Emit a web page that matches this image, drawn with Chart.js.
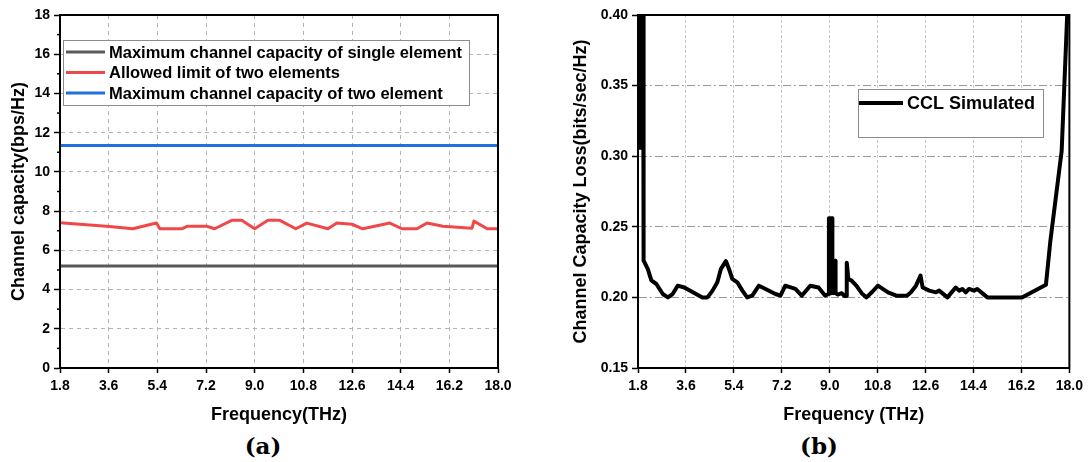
<!DOCTYPE html>
<html>
<head>
<meta charset="utf-8">
<script src="https://cdn.jsdelivr.net/npm/chart.js@4.4.0/dist/chart.umd.min.js"></script>
<style>
  body { margin: 0; background: #fff; width: 1088px; height: 462px; position: relative; overflow: hidden; }
  canvas { position: absolute; top: 0; }
  #capChart { left: 0; }
  #cclChart { left: 545px; }
  .tag { position: absolute; font: bold 23px "DejaVu Serif", serif; transform: translate(-50%, -50%); }
</style>
</head>
<body>
<canvas id="capChart" width="530" height="430"></canvas>
<canvas id="cclChart" width="543" height="430"></canvas>
<div class="tag" style="left:263px; top:445px">(a)</div>
<div class="tag" style="left:819px; top:445px">(b)</div>
<script>
// tick positions
const freqTicks = [1.8, 3.6, 5.4, 7.2, 9.0, 10.8, 12.6, 14.4, 16.2, 18.0];
const capTicks = [0, 1, 2, 3, 4, 5, 6, 7, 8, 9, 10, 11, 12, 13, 14, 15, 16, 17, 18];
const cclTicks = [0.15, 0.20, 0.25, 0.30, 0.35, 0.40];

// (a) channel capacity
const capFreqEnds = [1.8, 18.0];
const singleCap = 5.2;
const twoCap = 11.35;
const limitFreq = [1.8, 3.63, 4.49, 5.37, 5.49, 6.30, 6.52, 7.23, 7.52, 8.15, 8.52, 9.0, 9.49, 9.93,
  10.52, 10.93, 11.71, 12.04, 12.60, 13.0, 14.0, 14.45, 15.0, 15.37, 15.96, 17.04, 17.11, 17.6, 18.0];
const limitCap = [7.41, 7.22, 7.10, 7.39, 7.10, 7.10, 7.23, 7.23, 7.10, 7.53, 7.53, 7.10, 7.53, 7.53,
  7.10, 7.39, 7.10, 7.39, 7.33, 7.10, 7.39, 7.10, 7.10, 7.39, 7.23, 7.13, 7.49, 7.10, 7.10];

// (b) channel capacity loss (the start and the 9 THz resonance swing rapidly)
const cclFreq = [1.82, 1.84, 1.87, 1.90, 1.93, 1.96, 1.99, 2.01, 2.04, 2.17, 2.30, 2.49, 2.73, 2.92, 3.10, 3.29, 3.54,
  3.98, 4.22, 4.41, 4.60, 4.78, 4.91, 5.10, 5.22, 5.34, 5.53, 5.72, 5.90, 6.09, 6.34, 6.59, 6.96,
  7.15, 7.33, 7.71, 7.95, 8.27, 8.58, 8.83, 8.95, 8.97, 9.00, 9.03, 9.06, 9.09, 9.10, 9.15, 9.20, 9.22, 9.30,
  9.45, 9.55, 9.62, 9.64, 9.70, 9.82, 10.0, 10.2, 10.38, 10.6, 10.81, 11.19, 11.5, 11.9, 12.05,
  12.24, 12.41, 12.49, 12.74, 12.99, 13.11, 13.42, 13.73, 13.86, 13.98, 14.11, 14.23, 14.42, 14.54,
  14.92, 16.22, 17.12, 17.28, 17.71, 17.90, 17.96];
const cclValue = [0.45, 0.306, 0.45, 0.306, 0.45, 0.306, 0.45, 0.226, 0.225, 0.220, 0.212, 0.2095, 0.2024, 0.200, 0.2024, 0.2083, 0.207,
  0.2024, 0.200, 0.200, 0.2048, 0.2107, 0.220, 0.2257, 0.220, 0.2131, 0.2107, 0.2048, 0.200, 0.2012, 0.2083, 0.206, 0.2024,
  0.2012, 0.2083, 0.206, 0.2012, 0.2083, 0.207, 0.2012, 0.2024, 0.256, 0.203, 0.256, 0.203, 0.256, 0.204, 0.203, 0.226, 0.203, 0.202,
  0.203, 0.201, 0.201, 0.2245, 0.213, 0.2119, 0.2083, 0.203, 0.200, 0.204, 0.2083, 0.2036, 0.2012, 0.2012, 0.2036,
  0.2083, 0.2155, 0.207, 0.2048, 0.2036, 0.2048, 0.200, 0.207, 0.2048, 0.206, 0.2036, 0.206, 0.2048, 0.206,
  0.200, 0.200, 0.209, 0.239, 0.3036, 0.3917, 0.42];

const pts = (xs, ys) => xs.map((x, i) => ({ x: x, y: ys[i] }));
const font = (size) => ({ family: "'Liberation Sans', Arial, sans-serif", size: size, weight: 'bold' });

// black box around the plot area
const framePlugin = {
  id: 'frame',
  afterDraw(chart) {
    const { ctx, chartArea: a } = chart;
    ctx.save();
    ctx.strokeStyle = '#000';
    ctx.lineWidth = 2;
    ctx.strokeRect(a.left, a.top, a.right - a.left, a.bottom - a.top);
    ctx.restore();
  }
};

// short ticks between the labelled ones on the capacity axis
const minorTicks = {
  id: 'minorTicks',
  afterDraw(chart) {
    const s = chart.scales.y;
    const ctx = chart.ctx;
    ctx.save();
    ctx.strokeStyle = '#000';
    ctx.lineWidth = 1.5;
    capTicks.filter(v => v % 2 !== 0).forEach(v => {
      const y = s.getPixelForValue(v);
      ctx.beginPath();
      ctx.moveTo(s.right - 3, y);
      ctx.lineTo(s.right, y);
      ctx.stroke();
    });
    ctx.restore();
  }
};

// legend drawn inside the plot with a grey box
const boxLegend = {
  id: 'boxLegend',
  afterDraw(chart, args, o) {
    const { ctx, chartArea } = chart;
    const x = chartArea.left + o.left, y = chartArea.top + o.top;
    ctx.save();
    ctx.fillStyle = '#fff';
    ctx.fillRect(x, y, o.width, o.height);
    ctx.strokeStyle = '#8c8c8c';
    ctx.lineWidth = 1;
    ctx.strokeRect(x + 0.5, y + 0.5, o.width, o.height);
    ctx.font = 'bold ' + o.size + "px 'Liberation Sans', Arial, sans-serif";
    ctx.textBaseline = 'middle';
    chart.data.datasets.forEach((ds, i) => {
      const ry = y + o.firstRow + i * o.rowGap;
      ctx.strokeStyle = ds.borderColor;
      ctx.lineWidth = o.lineWidth;
      ctx.beginPath();
      ctx.moveTo(x + o.sampleStart, ry);
      ctx.lineTo(x + o.sampleEnd, ry);
      ctx.stroke();
      ctx.fillStyle = '#000';
      ctx.fillText(ds.label, x + o.textStart, ry + 1);
    });
    ctx.restore();
  }
};

const freqAxis = (gridColor, dash) => ({
  type: 'linear',
  min: 1.8,
  max: 18,
  afterBuildTicks: s => { s.ticks = freqTicks.map(v => ({ value: v })); },
  afterFit: s => { s.height = 58; },
  grid: { color: gridColor, tickColor: '#000', tickLength: 5, tickWidth: 1.5, lineWidth: 1 },
  border: { display: true, color: '#000', width: 2, dash: dash },
  ticks: { color: '#000', font: font(14), padding: 5, maxRotation: 0, callback: v => v.toFixed(1) },
  title: { display: true, font: font(18), color: '#000', padding: { top: 0, bottom: 0 } }
});

const capX = freqAxis('#b4b4b4', [4, 4]);
capX.title.text = 'Frequency(THz)';

new Chart(document.getElementById('capChart'), {
  type: 'line',
  data: {
    datasets: [
      { label: 'Maximum channel capacity of single element', data: pts(capFreqEnds, [singleCap, singleCap]), borderColor: '#595959' },
      { label: 'Allowed limit of two elements', data: pts(limitFreq, limitCap), borderColor: '#f04848' },
      { label: 'Maximum channel capacity of two element', data: pts(capFreqEnds, [twoCap, twoCap]), borderColor: '#1f72dc' }
    ]
  },
  options: {
    responsive: false,
    animation: false,
    layout: { padding: { top: 15, right: 32, bottom: 4, left: 0 } },
    elements: { point: { radius: 0 }, line: { borderWidth: 3, tension: 0, borderJoinStyle: 'round' } },
    scales: {
      x: capX,
      y: {
        type: 'linear',
        min: 0,
        max: 18,
        afterBuildTicks: s => { s.ticks = capTicks.map(v => ({ value: v })); },
        afterFit: s => { s.width = 60; },
        grid: {
          color: c => (c.tick && c.tick.value % 2 === 0) ? '#b4b4b4' : 'rgba(0,0,0,0)',
          tickColor: c => (c.tick && c.tick.value % 2 === 0) ? '#000' : 'rgba(0,0,0,0)',
          tickLength: 6, tickWidth: 1.5
        },
        border: { display: true, color: '#000', width: 2, dash: [4, 4] },
        ticks: { color: '#000', font: font(14), padding: 4, callback: v => (v % 2 === 0 ? String(v) : '') },
        title: { display: true, text: 'Channel capacity(bps/Hz)', font: font(18), color: '#000', padding: { top: 8, bottom: 0 } }
      }
    },
    plugins: {
      legend: { display: false },
      tooltip: { enabled: false },
      boxLegend: { left: 3, top: 25, width: 406, height: 65, size: 16.5, firstRow: 12, rowGap: 20.5,
        sampleStart: 3, sampleEnd: 42, textStart: 46, lineWidth: 3 }
    }
  },
  plugins: [framePlugin, minorTicks, boxLegend]
});

const cclX = freqAxis('#c8c8c8', [3, 2]);
cclX.title.text = 'Frequency (THz)';

new Chart(document.getElementById('cclChart'), {
  type: 'line',
  data: {
    datasets: [
      { label: 'CCL Simulated', data: pts(cclFreq, cclValue), borderColor: '#000', borderWidth: 4, clip: 0 }
    ]
  },
  options: {
    responsive: false,
    animation: false,
    layout: { padding: { top: 15, right: 15, bottom: 4, left: 0 } },
    elements: { point: { radius: 0 }, line: { tension: 0, borderJoinStyle: 'round' } },
    scales: {
      x: cclX,
      y: {
        type: 'linear',
        min: 0.15,
        max: 0.40,
        afterBuildTicks: s => { s.ticks = cclTicks.map(v => ({ value: v })); },
        afterFit: s => { s.width = 93; },
        grid: { color: '#999', tickColor: '#000', tickLength: 6, tickWidth: 1.5 },
        border: { display: true, color: '#000', width: 2, dash: [8, 3, 2, 3] },
        ticks: { color: '#000', font: font(14), padding: 4, callback: v => v.toFixed(2) },
        title: { display: true, text: 'Channel Capacity Loss(bits/sec/Hz)', font: font(18), color: '#000', padding: { top: 25, bottom: 0 } }
      }
    },
    plugins: {
      legend: { display: false },
      tooltip: { enabled: false },
      boxLegend: { left: 220, top: 74, width: 185, height: 48, size: 18, firstRow: 14, rowGap: 20,
        sampleStart: 1, sampleEnd: 45, textStart: 49, lineWidth: 4 }
    }
  },
  plugins: [framePlugin, boxLegend]
});
</script>
</body>
</html>
